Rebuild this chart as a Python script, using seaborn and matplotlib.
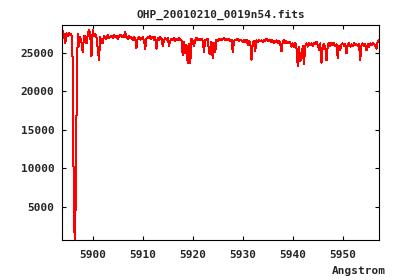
import numpy as np
import pandas as pd
import matplotlib
matplotlib.use("Agg")
import matplotlib.pyplot as plt
import seaborn as sns

title = "OHP_20010210_0019n54.fits"
xlabel = "Angstrom"
start_wl = 5893.75
step_wl = 0.25
# flux in units of 1000 counts, one value per 0.25 Angstrom
flux_k = [
    27.5, 27.8, 27.3, 26.2, 27.5, 27.2, 27.6, 27.3, 27.4, 24.0, 2.4, 0.75, 16.4, 27.4, 25.8, 27.0,
    26.4, 25.1, 27.1, 27.2, 26.2, 27.3, 27.9, 27.4, 24.5, 27.9, 27.2, 27.4, 27.0, 25.6, 24.0, 27.1,
    26.2, 26.3, 27.2, 27.0, 26.8, 27.3, 26.9, 27.1, 27.2, 26.9, 27.3, 27.0, 27.2, 26.8, 27.1, 27.3,
    27.2, 27.0, 27.1, 27.7, 27.0, 26.8, 27.2, 26.9, 27.0, 26.6, 27.1, 26.8, 25.6, 26.9, 27.0, 26.7,
    26.9, 27.0, 26.6, 25.5, 26.8, 27.0, 26.9, 27.2, 26.8, 27.1, 26.7, 27.0, 25.5, 26.9, 26.7, 27.0,
    26.8, 25.9, 26.6, 26.9, 26.7, 26.9, 25.9, 26.5, 26.8, 26.6, 26.9, 26.5, 26.8, 26.6, 26.9, 26.7,
    26.6, 24.7, 26.4, 24.9, 26.0, 23.6, 26.2, 23.6, 26.8, 26.5, 25.8, 26.7, 26.9, 26.6, 26.8, 26.7,
    26.8, 26.5, 25.1, 26.7, 26.6, 26.8, 25.1, 24.8, 26.4, 24.3, 26.3, 25.1, 26.7, 26.5, 26.8, 26.6,
    26.8, 26.7, 26.9, 26.7, 26.8, 26.6, 26.8, 26.5, 26.7, 25.1, 26.5, 26.7, 26.6, 26.8, 26.5, 26.7,
    26.6, 26.4, 26.6, 26.4, 26.7, 26.0, 26.5, 26.4, 24.1, 26.3, 26.5, 25.2, 26.6, 26.4, 26.7, 26.5,
    26.6, 26.4, 26.7, 26.5, 26.8, 26.6, 26.5, 26.7, 26.4, 26.6, 26.3, 26.5, 26.6, 26.3, 26.5, 26.2,
    25.2, 26.4, 26.6, 26.3, 26.5, 26.2, 26.4, 26.3, 25.8, 26.2, 25.7, 26.3, 25.5, 23.3, 25.8, 23.9,
    24.3, 25.9, 23.5, 25.9, 26.2, 25.8, 26.3, 26.0, 26.2, 25.9, 26.3, 26.1, 26.4, 26.0, 25.4, 26.2,
    23.7, 25.9, 26.1, 25.7, 24.0, 26.0, 26.2, 25.9, 26.3, 26.0, 26.2, 25.9, 26.1, 24.3, 25.9, 25.4,
    26.1, 26.2, 25.9, 26.1, 24.9, 26.0, 26.2, 25.8, 26.1, 25.9, 26.2, 26.0, 26.1, 25.9, 26.1, 24.1,
    26.0, 26.2, 25.9, 26.1, 25.3, 26.1, 25.8, 26.2, 26.0, 26.3, 26.1, 25.9, 25.5, 26.5, 26.6, 26.4,
]
x_ticks = [5900, 5910, 5920, 5930, 5940, 5950]
y_ticks = [5000, 10000, 15000, 20000, 25000]

wl = start_wl + step_wl * np.arange(len(flux_k))
df = pd.DataFrame({"wl": wl, "flux": np.array(flux_k) * 1000.0})

sns.set_style("white")
plt.rcParams["font.family"] = ["DejaVu Sans Mono", "DejaVu Sans"]
plt.rcParams["font.weight"] = "bold"

fig = plt.figure(figsize=(4.0, 2.8), dpi=100)
ax = fig.add_axes([0.155, 0.1429, 0.7932, 0.7668])
sns.lineplot(data=df, x="wl", y="flux", ax=ax, color="#ff0000",
             linewidth=0.72, sort=False, estimator=None, antialiased=False)

ax.set_xlim(5893.86, 5957.3)
ax.set_ylim(675, 28560)
ax.set_xticks(x_ticks)
ax.set_yticks(y_ticks)
ax.set_xticklabels([str(v) for v in x_ticks])
ax.set_yticklabels([str(v) for v in y_ticks])
ax.set_xlabel("")
ax.set_ylabel("")
ax.tick_params(direction="in", length=3, width=0.8, color="black",
               labelsize=8, top=True, right=True, bottom=True, left=True)
ax.tick_params(axis="x", pad=7.5)
ax.tick_params(axis="y", pad=5.5)
for s in ax.spines.values():
    s.set_color("black")
    s.set_linewidth(0.8)
for lab in ax.get_xticklabels() + ax.get_yticklabels():
    lab.set_fontweight("bold")

fig.text(220.5 / 400, 1 - 14.5 / 280, title, ha="center", va="center",
         fontsize=8, fontweight="bold")
fig.text(386 / 400, 1 - 271 / 280, xlabel, ha="right", va="center",
         fontsize=8, fontweight="bold")

fig.savefig("out.png", dpi=100, facecolor="white")
